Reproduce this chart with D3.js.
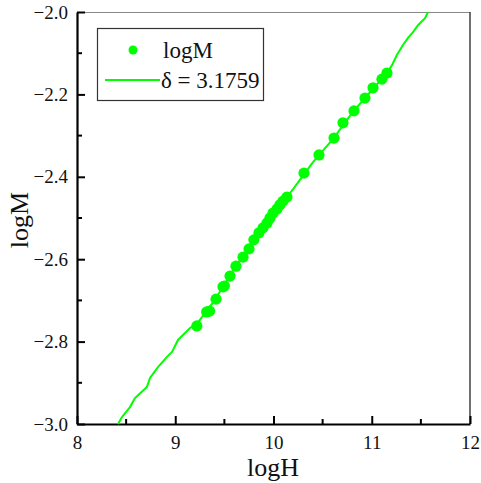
<!DOCTYPE html>
<html>
<head>
<meta charset="utf-8">
<script src="https://cdn.jsdelivr.net/npm/d3@7"></script>
<style>
  body { margin: 0; background: #fff; }
</style>
</head>
<body>
<svg id="chart" width="481" height="483"></svg>
<script>
// measured points (logH, logM)
const logH = [9.22, 9.32, 9.35, 9.415, 9.486, 9.50, 9.557, 9.618, 9.69, 9.751, 9.80, 9.852, 9.893,
    9.934, 9.964, 9.995, 10.036, 10.066, 10.097, 10.137, 10.31, 10.463, 10.616, 10.707, 10.819,
    10.931, 11.013, 11.104, 11.155];
const logM = [-2.762, -2.728, -2.726, -2.697, -2.667, -2.665, -2.641, -2.617, -2.595, -2.575, -2.553,
    -2.536, -2.524, -2.512, -2.500, -2.488, -2.478, -2.468, -2.459, -2.449, -2.391, -2.347, -2.306,
    -2.269, -2.240, -2.209, -2.184, -2.163, -2.148];

// fitted line, delta = 3.1759
const fitH = [8.417, 8.458, 8.539, 8.59, 8.621, 8.712, 8.743, 8.824, 8.916, 8.967, 9.028, 9.079, 9.15,
    9.22, 9.40, 9.60, 9.80, 10.0, 10.2, 10.4, 10.6, 10.8, 11.0, 11.1, 11.155, 11.206, 11.257,
    11.318, 11.369, 11.42, 11.471, 11.542, 11.573];
const fitM = [-3.0, -2.983, -2.959, -2.937, -2.930, -2.910, -2.888, -2.862, -2.837, -2.825, -2.796,
    -2.784, -2.767, -2.757, -2.700, -2.622, -2.555, -2.488, -2.430, -2.365, -2.310, -2.245, -2.190,
    -2.163, -2.148, -2.129, -2.104, -2.080, -2.063, -2.049, -2.032, -2.015, -2.0];

const xTicks = [8, 9, 10, 11, 12];
const yTicks = [-3.0, -2.8, -2.6, -2.4, -2.2, -2.0];
const legendLabels = ["logM", "\u03b4 = 3.1759"];
const green = "#00ff00";
const serif = "'Times New Roman', 'Liberation Serif', Times, serif";

const svg = d3.select("#chart").style("font-family", serif);
const x = d3.scaleLinear().domain([8, 12]).range([77, 470]);
const y = d3.scaleLinear().domain([-3, -2]).range([424, 12]);

// frame: top & right light
svg.append("line").attr("x1", 77).attr("x2", 470).attr("y1", 12.5).attr("y2", 12.5)
    .attr("stroke", "#888").attr("stroke-width", 1.2);
svg.append("line").attr("x1", 470).attr("x2", 470).attr("y1", 12).attr("y2", 424)
    .attr("stroke", "#333").attr("stroke-width", 1.4);

// bottom axis
const xAxis = svg.append("g").attr("transform", "translate(0,424)")
    .call(d3.axisBottom(x).tickValues(xTicks).tickFormat(d3.format("d")).tickSizeInner(-8).tickSizeOuter(0).tickPadding(12))
    .attr("font-family", null);
xAxis.select(".domain").attr("stroke", "#000").attr("stroke-width", 2.2);
xAxis.selectAll(".tick line").attr("stroke", "#000").attr("stroke-width", 2);
xAxis.selectAll(".tick text").attr("font-size", 19).style("font-family", serif).attr("fill", "#111");
xAxis.selectAll(".minor").data(d3.range(8.5, 12, 1)).enter().append("line")
    .attr("x1", d => x(d)).attr("x2", d => x(d)).attr("y1", 0).attr("y2", -5)
    .attr("stroke", "#000").attr("stroke-width", 2);

// left axis
const yAxis = svg.append("g").attr("transform", "translate(77,0)")
    .call(d3.axisLeft(y).tickValues(yTicks).tickFormat(d3.format(".1f")).tickSizeInner(-8).tickSizeOuter(0).tickPadding(9))
    .attr("font-family", null);
yAxis.select(".domain").attr("stroke", "#000").attr("stroke-width", 2.2);
yAxis.selectAll(".tick line").attr("stroke", "#000").attr("stroke-width", 2);
yAxis.selectAll(".tick text").attr("font-size", 19).style("font-family", serif).attr("fill", "#111");
yAxis.selectAll(".minor").data(d3.range(-2.9, -2.0, 0.2)).enter().append("line")
    .attr("y1", d => y(d)).attr("y2", d => y(d)).attr("x1", 0).attr("x2", 5)
    .attr("stroke", "#000").attr("stroke-width", 2);

// axis titles
svg.append("text").attr("x", 273).attr("y", 476).attr("text-anchor", "middle")
    .attr("font-size", 26).attr("fill", "#111").style("font-family", serif).text("logH");
svg.append("text").attr("transform", "translate(28,220) rotate(-90)").attr("text-anchor", "middle")
    .attr("font-size", 26).attr("fill", "#111").style("font-family", serif).text("logM");

// fit line
const plot = svg.append("g");
const line = d3.line().x(d => x(d[0])).y(d => y(d[1]));
plot.append("path").datum(fitH.map((h, i) => [h, fitM[i]]))
    .attr("d", line).attr("fill", "none").attr("stroke", green).attr("stroke-width", 2);

// points
plot.selectAll("circle").data(logH.map((h, i) => [h, logM[i]])).enter().append("circle")
    .attr("cx", d => x(d[0])).attr("cy", d => y(d[1])).attr("r", 5.6).attr("fill", green);

// legend
const legend = svg.append("g");
legend.append("rect").attr("x", 97.5).attr("y", 28.5).attr("width", 166).attr("height", 72)
    .attr("fill", "#fff").attr("stroke", "#333").attr("stroke-width", 1.2);
legend.append("circle").attr("cx", 133).attr("cy", 50).attr("r", 4.5).attr("fill", green);
legend.append("line").attr("x1", 105).attr("x2", 160).attr("y1", 80).attr("y2", 80)
    .attr("stroke", green).attr("stroke-width", 2);
legend.selectAll(".lab").data(legendLabels).enter().append("text")
    .attr("x", (d, i) => i === 0 ? 163 : 161).attr("y", (d, i) => i === 0 ? 58 : 88)
    .attr("font-size", 23).attr("fill", "#111").style("font-family", serif).text(d => d);
</script>
</body>
</html>
